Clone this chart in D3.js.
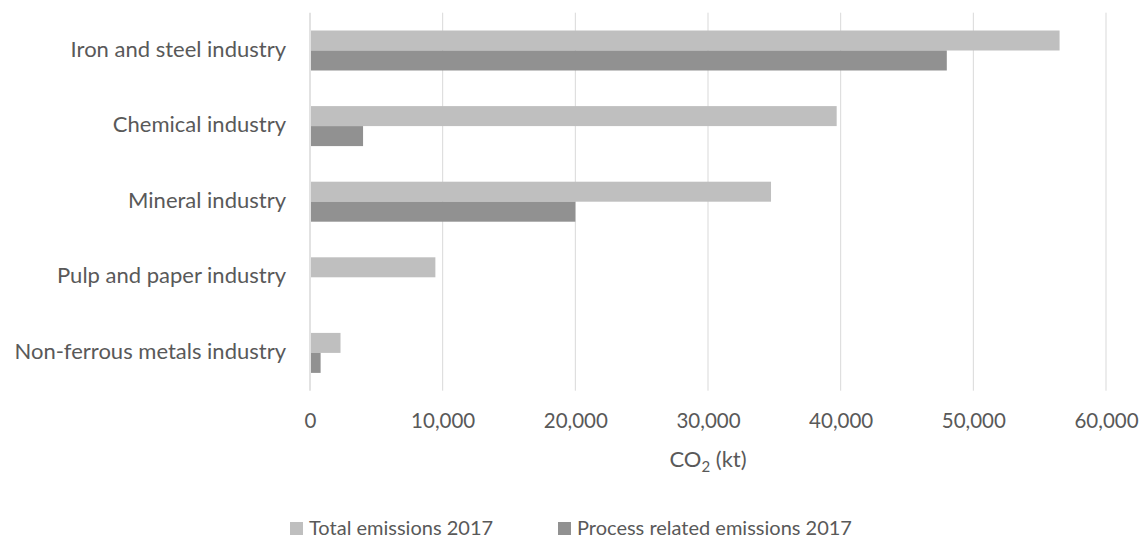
<!DOCTYPE html>
<html>
<head>
<meta charset="utf-8">
<script src="https://cdn.jsdelivr.net/npm/d3@7"></script>
<style>
  body { margin: 0; background: #fff; }
  text { font-family: Lato, "Open Sans", sans-serif; fill: #595959; }
</style>
</head>
<body>
<div id="chart"></div>
<script>
// Chart data
const categories = ["Iron and steel industry", "Chemical industry", "Mineral industry", "Pulp and paper industry", "Non-ferrous metals industry"];
const seriesNames = ["Total emissions 2017", "Process related emissions 2017"];
const totalEmissions = [56500, 39700, 34750, 9450, 2300];
const processEmissions = [48000, 4000, 20000, 0, 800];
const tickValues = [0, 10000, 20000, 30000, 40000, 50000, 60000];
const colors = ["#bfbfbf", "#919191"];

const w = 1145;
const h = 540;
const plotLeft = 310, plotRight = 1106, plotTop = 12.7, plotBottom = 390.7;

const svg = d3.select("#chart")
  .append("svg")
  .attr("width", w)
  .attr("height", h)

const x = d3.scaleLinear()
  .domain([0, 60000])
  .range([plotLeft, plotRight])

// paddingInner/Outer chosen so each group of two bars is ~40px inside a ~75px band
const y = d3.scaleBand()
  .domain(categories)
  .range([plotTop, plotBottom])
  .paddingInner(0.471)
  .paddingOuter(0.2355)

const ySeries = d3.scaleBand()
  .domain(seriesNames)
  .range([0, y.bandwidth()])

// Vertical gridlines (the first one doubles as the axis line)
svg.append("g")
  .selectAll("line")
  .data(tickValues)
  .enter()
  .append("line")
  .attr("x1", d => x(d))
  .attr("x2", d => x(d))
  .attr("y1", plotTop)
  .attr("y2", plotBottom)
  .attr("stroke", "#d9d9d9")
  .attr("stroke-width", (d, i) => i === 0 ? 1.5 : 1)

// Bars
const rows = categories.map((c, i) => ({ category: c, values: [totalEmissions[i], processEmissions[i]] }));

const groups = svg.append("g")
  .selectAll("g")
  .data(rows)
  .enter()
  .append("g")
  .attr("transform", d => "translate(0," + y(d.category) + ")")

groups.selectAll("rect")
  .data(d => d.values.map((v, j) => ({ series: seriesNames[j], value: v, color: colors[j] })))
  .enter()
  .append("rect")
  .attr("x", x(0) + 1)
  .attr("y", d => ySeries(d.series))
  .attr("width", d => Math.max(0, x(d.value) - x(0) - 1))
  .attr("height", ySeries.bandwidth())
  .attr("fill", d => d.color)

// Category axis
const yAxis = d3.axisLeft(y).tickSize(0).tickPadding(0);
const yAxisG = svg.append("g")
  .attr("transform", "translate(" + (plotLeft - 24) + ",-1)")
  .call(yAxis)
yAxisG.select(".domain").remove();
yAxisG.selectAll("text")
  .attr("font-size", 22)
  .attr("fill", "#595959")
  .style("font-family", "Lato, 'Open Sans', sans-serif")

// Value axis
const xAxis = d3.axisBottom(x).tickValues(tickValues).tickFormat(d3.format(",")).tickSize(0).tickPadding(0);
const xAxisG = svg.append("g")
  .attr("transform", "translate(0," + 413 + ")")
  .call(xAxis)
xAxisG.select(".domain").remove();
xAxisG.selectAll("text")
  .attr("font-size", 20.5)
  .attr("fill", "#595959")
  .style("font-family", "Lato, 'Open Sans', sans-serif")

// Axis title with subscript
const title = svg.append("text")
  .attr("x", (plotLeft + plotRight) / 2)
  .attr("y", 467)
  .attr("text-anchor", "middle")
  .attr("font-size", 22)
title.append("tspan").text("CO");
title.append("tspan").text("2").attr("font-size", 15).attr("dy", 5);
title.append("tspan").text(" (kt)").attr("dy", -5);

// Legend
const legendX = [290, 558];
const legend = svg.append("g")
  .selectAll("g")
  .data(seriesNames)
  .enter()
  .append("g")
  .attr("transform", (d, i) => "translate(" + legendX[i] + ",528)")

legend.append("rect")
  .attr("x", 0)
  .attr("y", -6)
  .attr("width", 13)
  .attr("height", 13)
  .attr("fill", (d, i) => colors[i])

legend.append("text")
  .attr("x", 19)
  .attr("y", 7)
  .attr("font-size", 20)
  .text(d => d)
</script>
</body>
</html>
